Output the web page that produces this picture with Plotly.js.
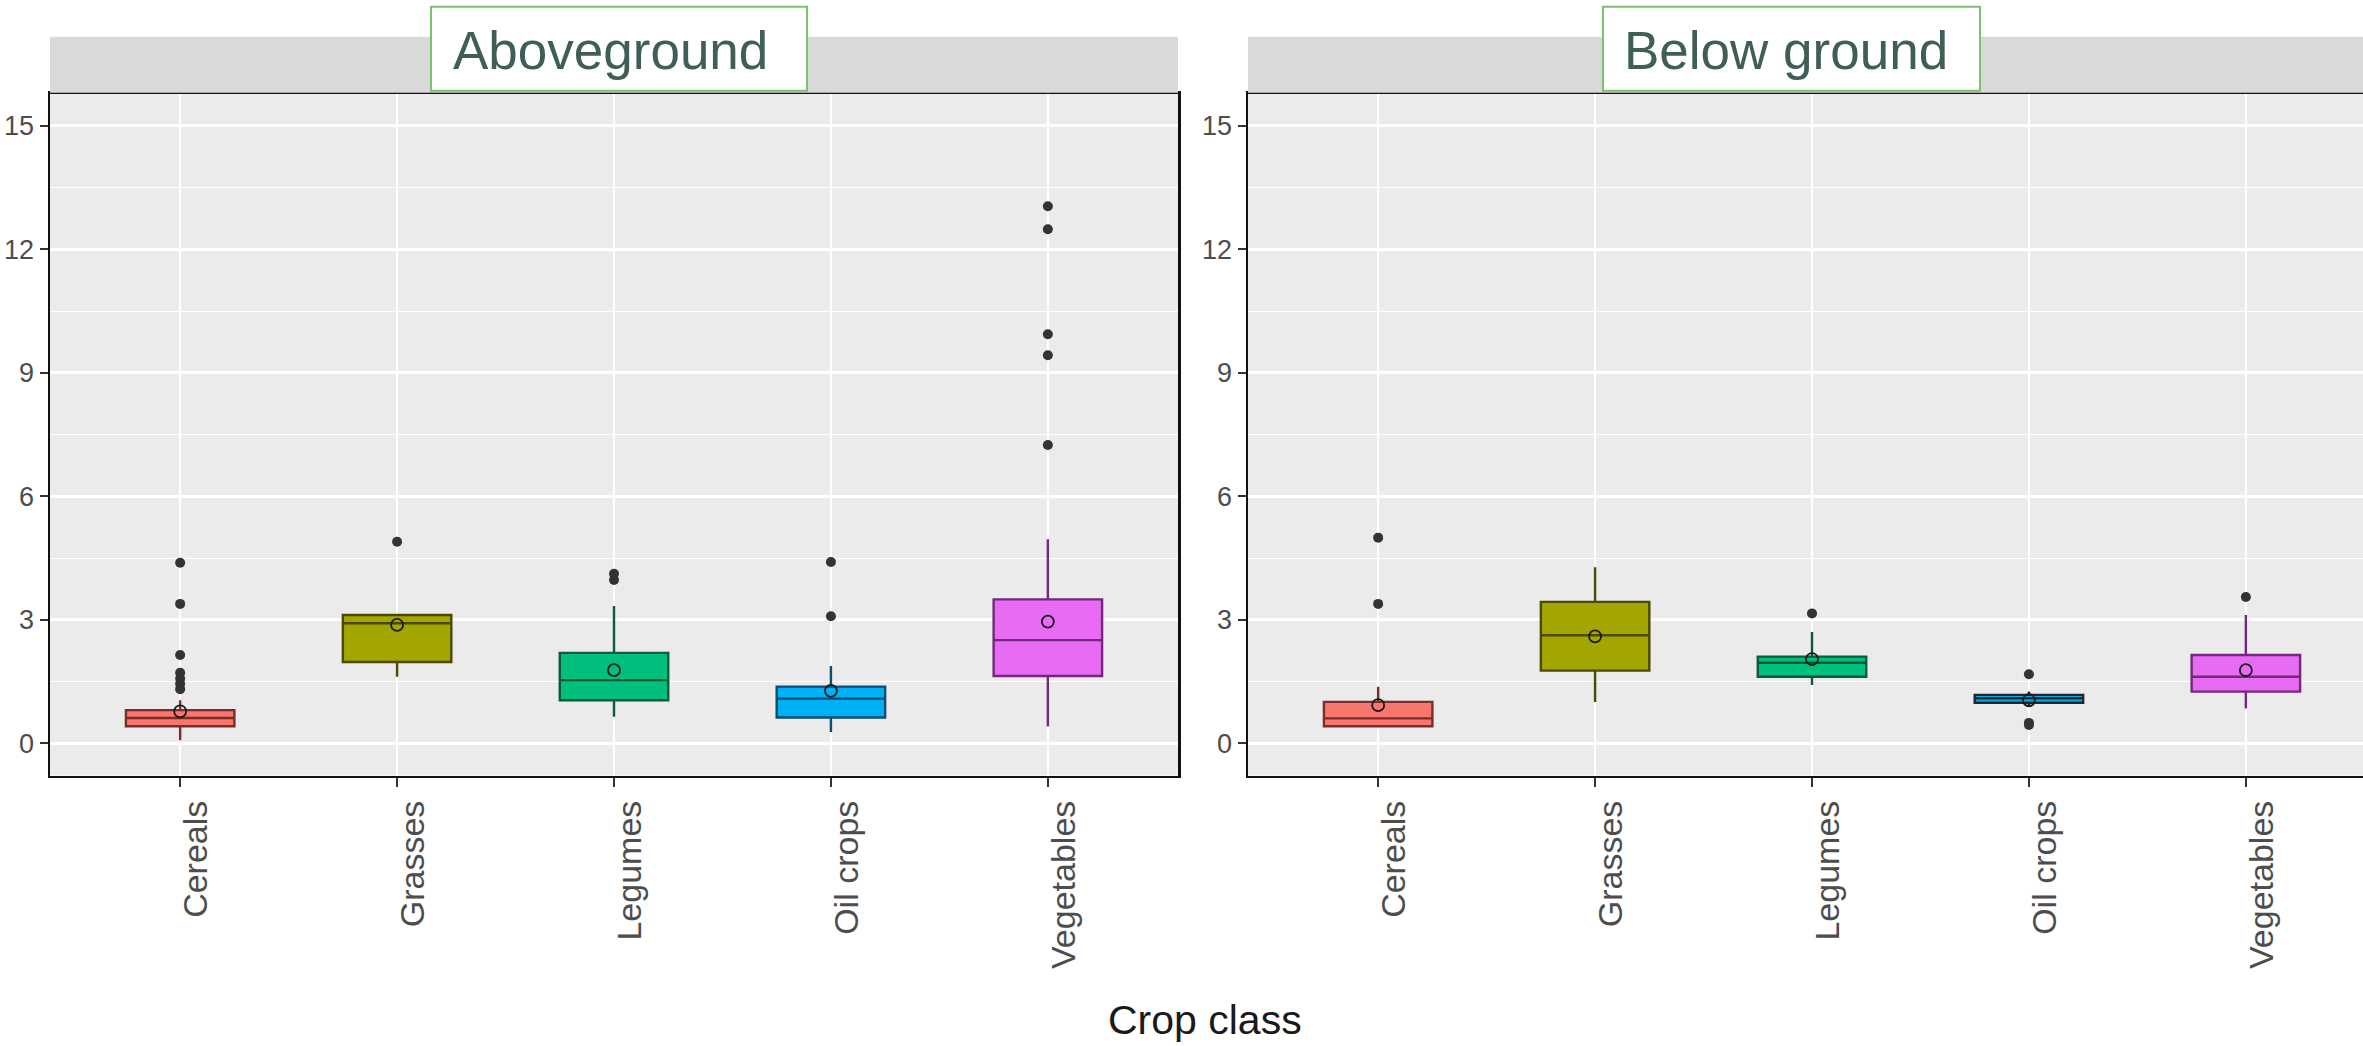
<!DOCTYPE html>
<html>
<head>
<meta charset="utf-8">
<script src="https://cdn.plot.ly/plotly-3.0.1.min.js"></script>
<style>
  html, body { margin: 0; padding: 0; background: #ffffff; }
  #chart { width: 2363px; height: 1046px; }
</style>
</head>
<body>
<div id="chart"></div>
<script>
// ---------------- data ----------------
const categories = ['Cereals', 'Grasses', 'Legumes', 'Oil crops', 'Vegetables'];
const panelTitles = ['Aboveground', 'Below ground'];
const yTickVals = [0, 3, 6, 9, 12, 15];
const yTickText = ['0', '3', '6', '9', '12', '15'];
const xAxisTitle = 'Crop class';

// Aboveground
const aboveQ1     = [0.42, 1.98, 1.05, 0.63, 1.64];
const aboveMedian = [0.62, 2.92, 1.54, 1.09, 2.51];
const aboveQ3     = [0.81, 3.12, 2.20, 1.38, 3.50];
const aboveLower  = [0.08, 1.62, 0.65, 0.28, 0.41];
const aboveUpper  = [1.05, 3.12, 3.34, 1.88, 4.96];
const aboveMean   = [0.78, 2.88, 1.78, 1.28, 2.96];
const aboveOutliers = [
  [4.39, 3.39, 2.15, 1.72, 1.58, 1.45, 1.32],
  [4.90],
  [4.12, 3.97],
  [4.41, 3.09],
  [13.05, 12.49, 9.94, 9.43, 7.25]
];

// Below ground
const belowQ1     = [0.42, 1.77, 1.62, 0.99, 1.26];
const belowMedian = [0.61, 2.63, 1.96, 1.10, 1.62];
const belowQ3     = [1.01, 3.44, 2.11, 1.18, 2.15];
const belowLower  = [0.39, 1.01, 1.42, 0.90, 0.85];
const belowUpper  = [1.38, 4.28, 2.71, 1.26, 3.12];
const belowMean   = [0.93, 2.60, 2.05, 1.05, 1.78];
const belowOutliers = [
  [5.00, 3.39],
  [],
  [3.16],
  [1.68, 0.50, 0.45],
  [3.56]
];

// ---------------- styles ----------------
const fillColors = ['#F8766D', '#A3A500', '#00BF7D', '#00B0F6', '#E76BF3'];
const aboveLineColors = ['#7A2E2A', '#4A4A00', '#0B5A3B', '#0A4F70', '#74287C'];
const belowLineColors = ['#7A2E2A', '#4A4A00', '#0B5A3B', '#262626', '#74287C'];

const W = 2363, H = 1046;
const px = v => v / W;
const py = v => 1 - v / H;

const plotTop = 93.8, plotBottom = 775.6;
const leftX0 = 50, leftX1 = 1178, rightX0 = 1248;

const traces = [];
function addPanel(q1, med, q3, lo, hi, mean, outl, lineColors, xa, ya) {
  categories.forEach((c, i) => {
    traces.push({
      type: 'box', x: [c], q1: [q1[i]], median: [med[i]], q3: [q3[i]],
      lowerfence: [lo[i]], upperfence: [hi[i]],
      width: 0.5, whiskerwidth: 0, boxpoints: false,
      fillcolor: fillColors[i],
      line: { color: lineColors[i], width: 2.4 },
      xaxis: xa, yaxis: ya, showlegend: false, hoverinfo: 'skip'
    });
  });
  const ox = [], oy = [];
  outl.forEach((arr, i) => arr.forEach(v => { ox.push(categories[i]); oy.push(v); }));
  traces.push({
    type: 'scatter', mode: 'markers', x: ox, y: oy,
    marker: { color: '#333333', size: 10 },
    xaxis: xa, yaxis: ya, showlegend: false, hoverinfo: 'skip'
  });
  traces.push({
    type: 'scatter', mode: 'markers', x: categories, y: mean,
    marker: { symbol: 'circle-open', color: '#1a1a1a', size: 12, line: { width: 1.8, color: '#1a1a1a' } },
    xaxis: xa, yaxis: ya, showlegend: false, hoverinfo: 'skip'
  });
}
addPanel(aboveQ1, aboveMedian, aboveQ3, aboveLower, aboveUpper, aboveMean, aboveOutliers, aboveLineColors, 'x', 'y');
addPanel(belowQ1, belowMedian, belowQ3, belowLower, belowUpper, belowMean, belowOutliers, belowLineColors, 'x2', 'y2');

const tickFontY = { family: 'Liberation Sans, Arial, sans-serif', size: 27, color: '#4D4D4D' };
const tickFontX = { family: 'Liberation Sans, Arial, sans-serif', size: 34, color: '#4D4D4D' };

function xAxis(domain, rng) {
  return {
    domain: domain, type: 'category', categoryorder: 'array', categoryarray: categories,
    range: rng, showgrid: true, gridcolor: '#FFFFFF', gridwidth: 1.6,
    showline: true, linecolor: '#111111', linewidth: 2.5, mirror: true,
    ticks: 'outside', ticklen: 9, tickwidth: 2, tickcolor: '#333333',
    tickangle: -90, tickfont: tickFontX, ticklabelshift: 16,
    zeroline: false, fixedrange: true
  };
}
function yAxis(anchor, mirror) {
  return {
    domain: [py(plotBottom), py(plotTop)], anchor: anchor,
    range: [-0.78, 15.78], tickvals: yTickVals, ticktext: yTickText,
    showgrid: true, gridcolor: '#FFFFFF', gridwidth: 3,
    minor: { tickvals: [1.5, 4.5, 7.5, 10.5, 13.5], showgrid: true, gridcolor: '#FFFFFF', gridwidth: 1.3, ticks: '' },
    showline: true, linecolor: '#111111', linewidth: 2.5, mirror: mirror,
    ticks: 'outside', ticklen: 8, tickwidth: 2, tickcolor: '#333333',
    tickfont: tickFontY, zeroline: false, fixedrange: true
  };
}

const layout = {
  width: W, height: H,
  margin: { l: 0, r: 0, t: 0, b: 0, pad: 0 },
  paper_bgcolor: '#FFFFFF', plot_bgcolor: '#EBEBEB',
  showlegend: false,
  xaxis: Object.assign(xAxis([px(leftX0), px(leftX1)], [-0.6, 4.6]), { anchor: 'y' }),
  xaxis2: Object.assign(xAxis([px(rightX0), 1], [-0.6, 4.54]), { anchor: 'y2' }),
  yaxis: yAxis('x', true),
  yaxis2: yAxis('x2', false),
  shapes: [
    { type: 'rect', xref: 'paper', yref: 'paper', x0: px(leftX0), x1: px(leftX1), y0: py(plotTop - 1), y1: py(36.7),
      fillcolor: '#D9D9D9', line: { width: 0 }, layer: 'above' },
    { type: 'rect', xref: 'paper', yref: 'paper', x0: px(rightX0), x1: 1, y0: py(plotTop - 1), y1: py(36.7),
      fillcolor: '#D9D9D9', line: { width: 0 }, layer: 'above' },
    { type: 'rect', xref: 'paper', yref: 'paper', x0: px(431), x1: px(807), y0: py(90.7), y1: py(6.7),
      fillcolor: '#FFFFFF', line: { color: '#7CC16F', width: 2 }, layer: 'above' },
    { type: 'rect', xref: 'paper', yref: 'paper', x0: px(1603), x1: px(1980), y0: py(90.7), y1: py(6.7),
      fillcolor: '#FFFFFF', line: { color: '#7CC16F', width: 2 }, layer: 'above' }
  ],
  annotations: [
    { xref: 'paper', yref: 'paper', x: px(610.5), y: py(50), xanchor: 'center', yanchor: 'middle',
      text: panelTitles[0], showarrow: false,
      font: { family: 'Liberation Sans, Arial, sans-serif', size: 53, color: '#3E5E57' } },
    { xref: 'paper', yref: 'paper', x: px(1786), y: py(50), xanchor: 'center', yanchor: 'middle',
      text: panelTitles[1], showarrow: false,
      font: { family: 'Liberation Sans, Arial, sans-serif', size: 53, color: '#3E5E57' } },
    { xref: 'paper', yref: 'paper', x: px(1205), y: py(1020), xanchor: 'center', yanchor: 'middle',
      text: xAxisTitle, showarrow: false,
      font: { family: 'Liberation Sans, Arial, sans-serif', size: 41, color: '#1A1A1A' } }
  ]
};

Plotly.newPlot('chart', traces, layout, { staticPlot: true, displayModeBar: false });
</script>
</body>
</html>
